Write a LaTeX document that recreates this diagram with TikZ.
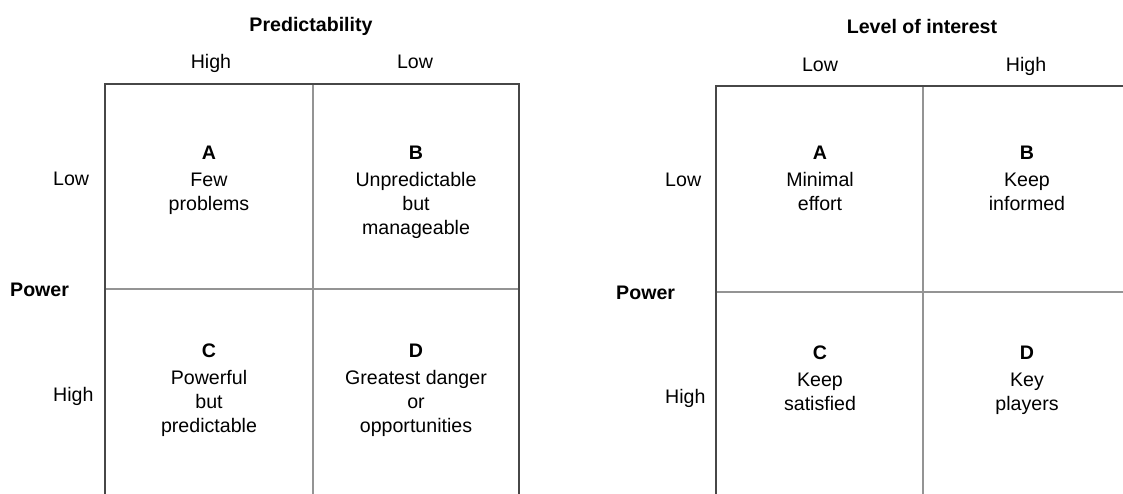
\documentclass[tikz,border=0pt]{standalone}
\usepackage{fontspec}
\setmainfont{Liberation Sans}
\begin{document}
\begin{tikzpicture}[x=1pt,y=-1pt,
  every node/.style={inner sep=0pt, font=\fontsize{19.6}{24}\selectfont},
  title/.style={font=\fontsize{19.6}{24}\selectfont\bfseries, anchor=base},
  head/.style={anchor=base},
  rowlab/.style={anchor=base west},
  cell/.style={anchor=north, align=center},
  outer/.style={draw=black!72, line width=1.4pt},
  inner/.style={draw=black!42, line width=1.1pt}]
\useasboundingbox (0,0) rectangle (1123,493);
\clip (0,0) rectangle (1123,493);
% ---------- left matrix ----------
\draw[inner] (313,84) -- (313,500);
\draw[inner] (105,289) -- (519,289);
\draw[outer] (105,500) -- (105,84) -- (519,84) -- (519,500);
\node[title] (t1) at (311,31) {Predictability};
\node[head] (h1a) at (211,68) {High};
\node[head] (h1b) at (415,68) {Low};
\node[rowlab] (r1a) at (53,185) {Low};
\node[rowlab] (r1b) at (53,401) {High};
\node[title, anchor=base west] (p1) at (10,296) {Power};
\node[cell] (c1a) at (209,146) {\textbf{A}\\[3pt]Few\\problems};
\node[cell] (c1b) at (416,146) {\textbf{B}\\[3pt]Unpredictable\\but\\manageable};
\node[cell] (c1c) at (209,344) {\textbf{C}\\[3pt]Powerful\\but\\predictable};
\node[cell] (c1d) at (416,344) {\textbf{D}\\[3pt]Greatest danger\\or\\opportunities};
% ---------- right matrix ----------
\draw[inner] (923,86) -- (923,500);
\draw[inner] (716,292) -- (1130,292);
\draw[outer] (716,500) -- (716,86) -- (1130,86);
\node[title] (t2) at (922,33) {Level of interest};
\node[head] (h2a) at (820,71) {Low};
\node[head] (h2b) at (1026,71) {High};
\node[rowlab] (r2a) at (665,186) {Low};
\node[rowlab] (r2b) at (665,403) {High};
\node[title, anchor=base west] (p2) at (616,299) {Power};
\node[cell] (c2a) at (820,146) {\textbf{A}\\[3pt]Minimal\\effort};
\node[cell] (c2b) at (1027,146) {\textbf{B}\\[3pt]Keep\\informed};
\node[cell] (c2c) at (820,346) {\textbf{C}\\[3pt]Keep\\satisfied};
\node[cell] (c2d) at (1027,346) {\textbf{D}\\[3pt]Key\\players};
\end{tikzpicture}
\end{document}
